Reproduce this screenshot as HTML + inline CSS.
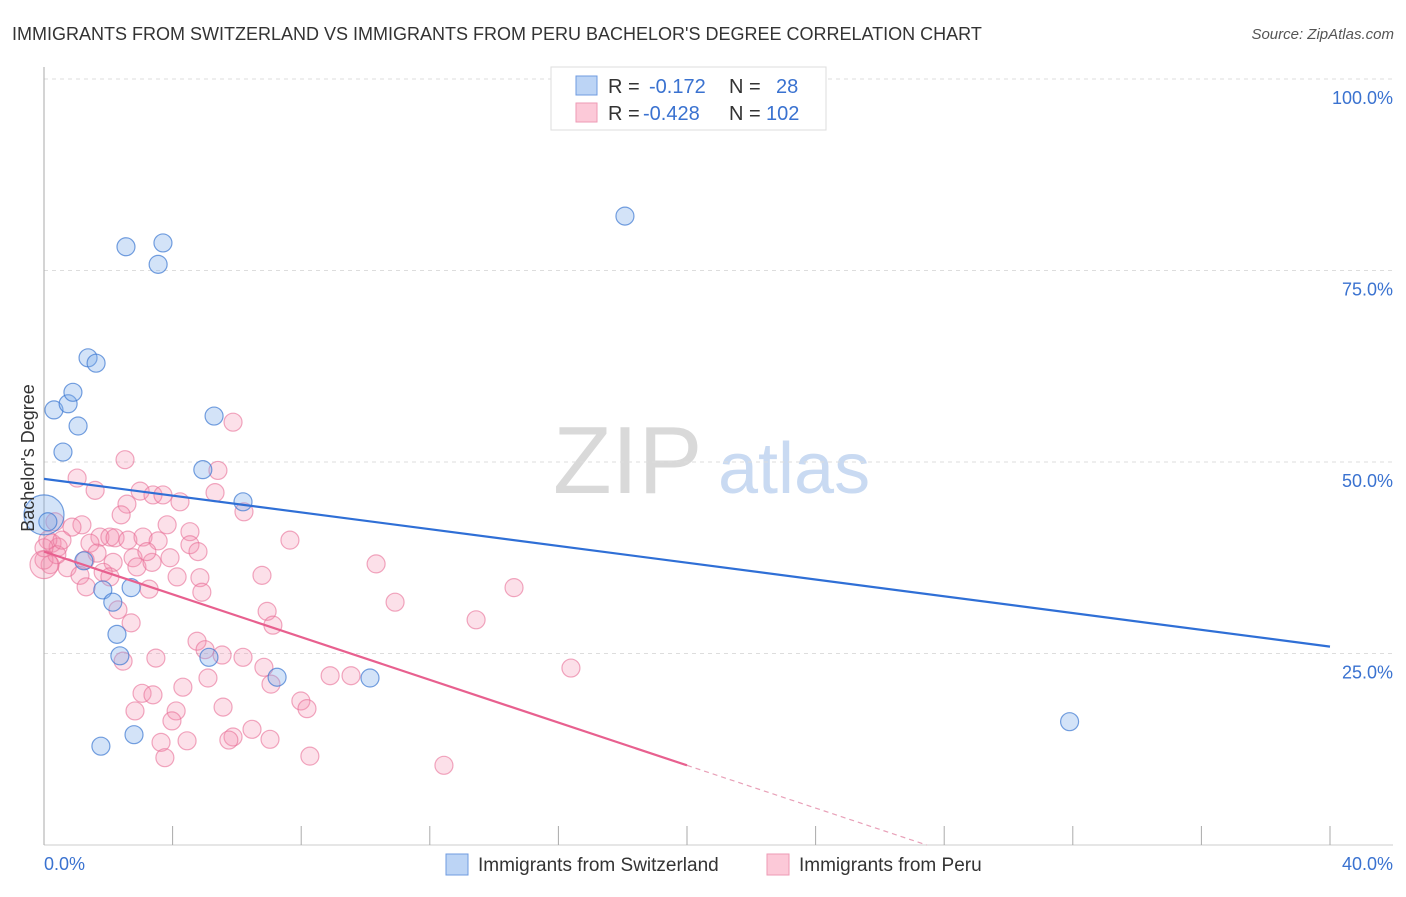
<!DOCTYPE html>
<html><head><meta charset="utf-8"><style>
body{margin:0;background:#fff;font-family:"Liberation Sans",sans-serif}
svg text{font-family:"Liberation Sans",sans-serif}
</style></head><body>
<svg id="chart" width="1406" height="892" viewBox="0 0 1406 892" xmlns="http://www.w3.org/2000/svg">
<text x="12" y="40" font-size="18" fill="#333">IMMIGRANTS FROM SWITZERLAND VS IMMIGRANTS FROM PERU BACHELOR'S DEGREE CORRELATION CHART</text>
<text x="1394" y="39" font-size="15" fill="#555" font-style="italic" text-anchor="end">Source: ZipAtlas.com</text>
<g>
<text x="553" y="493" font-size="96" font-family="Liberation Serif" fill="#d9d9d9">ZIP</text>
<text x="718" y="493" font-size="72" fill="#c9daf2">atlas</text>
</g>
<g id="grid"></g>
<g id="axes"></g>
<g id="marks"></g>
<g id="trends"></g>
<text transform="translate(34,458) rotate(-90)" font-size="18" fill="#333" text-anchor="middle">Bachelor's Degree</text>
<g>
<rect x="551" y="67" width="275" height="63" fill="#fff" stroke="#ddd"/>
<rect x="576" y="76" width="21" height="19" fill="#bcd4f5" stroke="#6f9be0"/>
<rect x="576" y="103" width="21" height="19" fill="#fcc9d8" stroke="#ee9ab5"/>
<text x="608" y="93" font-size="20" fill="#333">R =</text>
<text x="649" y="93" font-size="20" fill="#3a72d0">-0.172</text>
<text x="729" y="93" font-size="20" fill="#333">N =</text>
<text x="776" y="93" font-size="20" fill="#3a72d0">28</text>
<text x="608" y="120" font-size="20" fill="#333">R =</text>
<text x="643" y="120" font-size="20" fill="#3a72d0">-0.428</text>
<text x="729" y="120" font-size="20" fill="#333">N =</text>
<text x="766" y="120" font-size="20" fill="#3a72d0">102</text>
</g>
<g>
<rect x="446" y="854" width="22" height="21" fill="#bcd4f5" stroke="#6f9be0"/>
<text x="478" y="871" font-size="19" fill="#333">Immigrants from Switzerland</text>
<rect x="767" y="854" width="22" height="21" fill="#fcc9d8" stroke="#ee9ab5"/>
<text x="799" y="871" font-size="19" fill="#333">Immigrants from Peru</text>
</g>
</svg>
<script>
const yTicks=[25,50,75,100];
const yTickLabels=["25.0%","50.0%","75.0%","100.0%"];
const xTicks=[0,4,8,12,16,20,24,28,32,36,40];
const xTickLabels=["0.0%","40.0%"];
const blueX=[0,0.12,0.31,0.75,0.9,0.59,1.06,1.37,1.62,2.55,3.7,3.55,18.07,5.29,4.94,6.19,1.24,1.83,2.71,2.14,2.27,2.36,5.13,7.25,10.14,1.77,2.8,31.9];
const blueY=[43.1,42.2,56.8,57.6,59.1,51.3,54.7,63.6,62.9,78.1,78.6,75.8,82.1,56.0,49.0,44.8,37.1,33.3,33.6,31.7,27.5,24.7,24.5,21.9,21.8,12.9,14.4,16.1];
const pinkX=[5.88,2.52,5.41,1.03,1.59,2.99,3.39,3.70,4.23,5.32,6.22,2.58,2.40,0.34,1.18,0.87,3.83,4.54,7.65,1.74,2.05,2.21,2.61,3.08,3.55,4.54,4.79,10.33,0.25,0.44,0.19,0.72,1.43,1.65,2.15,2.77,2.89,3.36,3.92,3.20,1.12,1.84,2.05,1.31,4.14,4.85,4.91,6.78,3.27,10.92,2.30,2.71,6.94,7.12,4.76,5.01,5.54,6.19,3.48,2.46,6.84,7.06,8.90,9.55,5.10,4.32,3.05,3.39,7.99,8.18,2.83,5.57,4.11,3.98,6.47,5.88,5.75,7.03,4.45,3.64,3.76,8.27,13.44,14.62,16.39,12.44,0,0.12,0.4,0,0.56,1.28,0];
const pinkY=[55.2,50.3,48.9,47.9,46.3,46.2,45.7,45.7,44.8,46.0,43.5,44.5,43.1,42.2,41.8,41.5,41.8,40.9,39.8,40.2,40.2,40.1,39.8,40.2,39.7,39.2,38.3,36.7,39.4,38.9,36.6,36.2,39.4,38.1,36.9,37.5,36.3,36.9,37.5,38.3,35.2,35.6,35.0,33.7,35.0,34.9,33.0,35.2,33.4,31.7,30.7,29.0,30.5,28.7,26.6,25.5,24.8,24.5,24.4,24.0,23.2,21.0,22.1,22.1,21.8,20.6,19.8,19.6,18.8,17.8,17.5,18.0,17.5,16.2,15.1,14.1,13.7,13.8,13.6,13.4,11.4,11.6,29.4,33.6,23.1,10.4,37.2,39.8,37.9,38.8,39.8,37.2,36.6];
const blueTrend=[47.8,25.9];
const pinkTrend=[38.3,10.4];
const NS="http://www.w3.org/2000/svg";
const X0=44,X1=1330,Y0=845,Y100=79;
function xs(v){return X0+(X1-X0)*v/40;}
function ys(v){return Y0-(Y0-Y100)*v/100;}
function mk(tag,attrs,parent){const e=document.createElementNS(NS,tag);for(const k in attrs)e.setAttribute(k,attrs[k]);parent.appendChild(e);return e;}
const grid=document.getElementById('grid'),axes=document.getElementById('axes'),marks=document.getElementById('marks'),trends=document.getElementById('trends');
yTicks.forEach((t,i)=>{
 const l=mk('line',{x1:X0,x2:1393,y1:ys(t),y2:ys(t),stroke:'#ddd','stroke-dasharray':'4,4'},grid);
 
 
 const tx=mk('text',{x:1393,y:ys(t)+25,'font-size':18,fill:'#3a72d0','text-anchor':'end'},axes);
 tx.textContent=yTickLabels[i];
 
 
});
const ya=mk('line',{x1:X0,x2:X0,y1:67,y2:Y0,stroke:'#aaa'},axes);


const xa=mk('line',{x1:X0,x2:1393,y1:Y0,y2:Y0,stroke:'#ccc'},axes);


xTicks.forEach(t=>{
 const l=mk('line',{x1:xs(t),x2:xs(t),y1:826,y2:845,stroke:'#aaa'},axes);
 
 
});
const xl0=mk('text',{x:44,y:870,'font-size':18,fill:'#3a72d0'},axes);xl0.textContent=xTickLabels[0];


const xl1=mk('text',{x:1393,y:870,'font-size':18,fill:'#3a72d0','text-anchor':'end'},axes);xl1.textContent=xTickLabels[1];


pinkX.forEach((v,i)=>{
 const r=(i===pinkX.length-1)?14:9;
 const c=mk('circle',{cx:xs(v),cy:ys(pinkY[i]),r:r,fill:'rgba(244,143,177,0.28)',stroke:'rgba(232,110,150,0.6)','stroke-width':1.2},marks);
 
 
});
blueX.forEach((v,i)=>{
 const r=(i===0)?20:9;
 const c=mk('circle',{cx:xs(v),cy:ys(blueY[i]),r:r,fill:'rgba(130,175,235,0.35)',stroke:'rgba(60,120,210,0.7)','stroke-width':1.2},marks);
 
 
});
const bl=mk('line',{x1:xs(0),y1:ys(blueTrend[0]),x2:xs(40),y2:ys(blueTrend[1]),stroke:'#2f6fd6','stroke-width':2.2},trends);


const slope=(pinkTrend[1]-pinkTrend[0])/20;
const xz=-pinkTrend[0]/slope;
const pl=mk('line',{x1:xs(0),y1:ys(pinkTrend[0]),x2:xs(20),y2:ys(pinkTrend[1]),stroke:'#e8608f','stroke-width':2.2},trends);


const pd=mk('line',{x1:xs(20),y1:ys(pinkTrend[1]),x2:xs(xz),y2:ys(0),stroke:'#e8a0b8','stroke-width':1.2,'stroke-dasharray':'5,4'},trends);


</script>
</body></html>
